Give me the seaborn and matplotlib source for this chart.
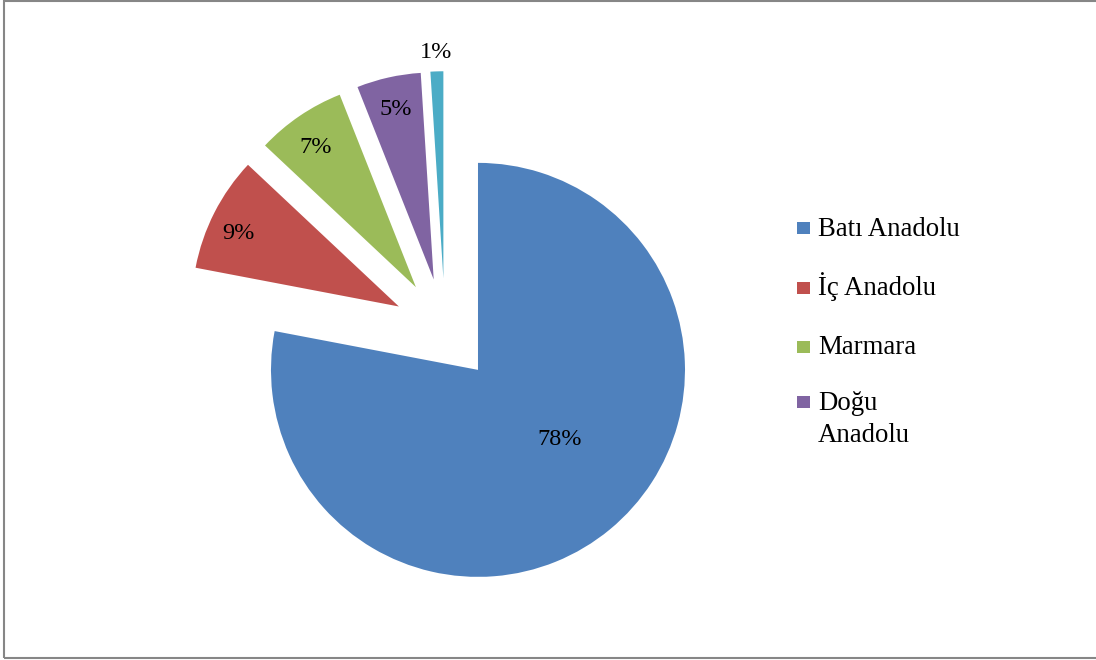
import matplotlib
matplotlib.use("Agg")
import matplotlib.pyplot as plt
import seaborn as sns
import numpy as np
from matplotlib.patches import Rectangle

# ---- data ----
regions = ["Batı Anadolu", "İç Anadolu", "Marmara", "Doğu Anadolu", "Diğer"]
shares = [78, 9, 7, 5, 1]
legend_labels = ["Batı Anadolu", "İç Anadolu", "Marmara", "Doğu\nAnadolu"]

# ---- style ----
sns.set_theme(style="white")
plt.rcParams["font.family"] = ["Liberation Serif", "DejaVu Serif"]
plt.rcParams["text.color"] = "black"
colors = sns.color_palette(["#4F81BD", "#C0504D", "#9BBB59", "#8064A2", "#4BACC6"])

W, H = 1096, 660
center_px = (445, 330)
radius_px = 207.0
label_dist = [0.52, 0.85, 0.83, 0.84, 1.09]
label_dang = [10.0, 2.5, 1.4, 0.0, 0.0]

fig = plt.figure(figsize=(W / 100, H / 100), dpi=100)
ax = fig.add_axes([0, 0, 1, 1])
wedges, texts, autotexts = ax.pie(
    shares, colors=colors, explode=[0.25] * len(shares), startangle=90,
    counterclock=False, autopct="%1.0f%%", pctdistance=0.6,
    wedgeprops=dict(linewidth=0),
    textprops=dict(fontsize=17.5, color="black"))

for w, t, d, da in zip(wedges, autotexts, label_dist, label_dang):
    mid = np.deg2rad((w.theta1 + w.theta2) / 2 + da)
    cx, cy = w.center
    t.set_position((cx + d * np.cos(mid), cy + d * np.sin(mid)))
    t.set_ha("center")
    t.set_va("center")

ax.set_xlim(-center_px[0] / radius_px, (W - center_px[0]) / radius_px)
ax.set_ylim(-(H - center_px[1]) / radius_px, center_px[1] / radius_px)
ax.set_aspect("auto")
ax.axis("off")

# chart border
fig.patches.append(Rectangle((4 / W, 1 - 658 / H), (W + 10) / W, 657 / H,
                             transform=fig.transFigure, fill=False,
                             edgecolor="#868686", lw=1.5))

# legend (Excel style: square key + wrapped label)
row_baselines = [235.5, 295.0, 354.5, 409.5]
line_gap = 33.0
for w, lab, yb in zip(wedges, legend_labels, row_baselines):
    fig.patches.append(Rectangle((797 / W, 1 - (yb - 1.5) / H), 13 / W, 12 / H,
                                 transform=fig.transFigure,
                                 facecolor=w.get_facecolor(), edgecolor="none"))
    for k, line in enumerate(lab.split("\n")):
        fig.text(818 / W, 1 - (yb + k * line_gap) / H, line, fontsize=19.3,
                 ha="left", va="baseline", color="black")

fig.savefig("out.png", dpi=100)
